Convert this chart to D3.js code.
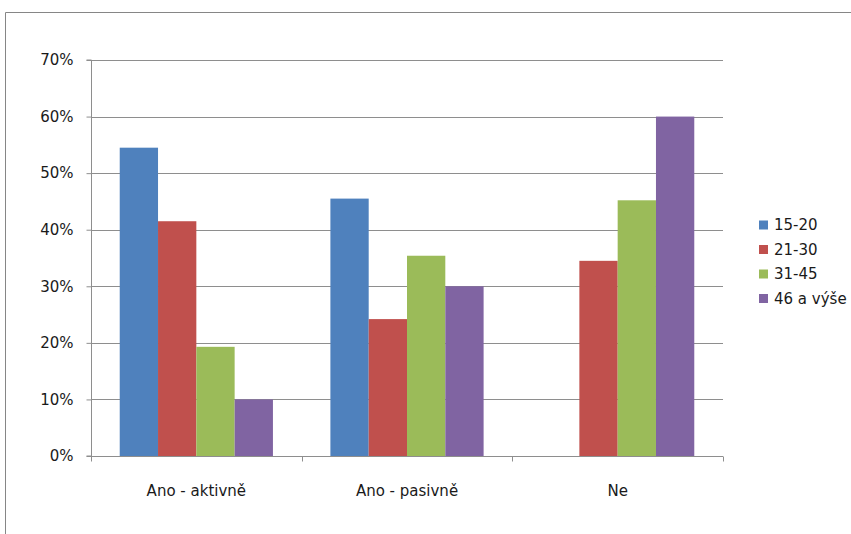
<!DOCTYPE html>
<html><head><meta charset="utf-8">
<script src="https://cdn.jsdelivr.net/npm/d3@7"></script>
<style>body{margin:0;background:#fff}svg{display:block}text{font-family:"DejaVu Sans",sans-serif;fill:#1a1a1a}</style>
</head><body><svg id="c" width="851" height="534"></svg>
<script>
const categories = ["Ano - aktivně", "Ano - pasivně", "Ne"];
const seriesNames = ["15-20", "21-30", "31-45", "46 a výše"];
const colors = ["#4F81BD", "#C0504D", "#9BBB59", "#8064A2"];
const s1520 = [0.545, 0.455, 0];
const s2130 = [0.415, 0.242, 0.345];
const s3145 = [0.193, 0.354, 0.452];
const s46 = [0.10, 0.30, 0.60];
const yTicks = [0, 0.1, 0.2, 0.3, 0.4, 0.5, 0.6, 0.7];
const seriesVals = [s1520, s2130, s3145, s46];

const svg = d3.select("#c");
const FONT = "'DejaVu Sans',sans-serif";
// outer chart frame
svg.append("path").attr("d","M5.5,534 V12.5 H851").attr("fill","none").attr("stroke","#868686").attr("stroke-width",1);

const L=91, R=723, T=60, B=456;
const x = d3.scaleBand().domain(categories).range([L,R]).paddingInner(0).paddingOuter(0);
const y = d3.scaleLinear().domain([0,0.7]).range([B,T]);
const bw = x.bandwidth()/5.5;
const xs = d3.scaleBand().domain(seriesNames).range([0, bw*4]);

// gridlines
svg.append("g").selectAll("line").data(yTicks.slice(1)).join("line")
  .attr("x1",L).attr("x2",R).attr("y1",d=>Math.round(y(d))+0.5).attr("y2",d=>Math.round(y(d))+0.5)
  .attr("stroke","#8e8e8e").attr("stroke-width",1);

// bars
seriesNames.forEach((s,i)=>{
  svg.append("g").selectAll("rect").data(categories.map((c,j)=>({c,v:seriesVals[i][j]}))).join("rect")
    .attr("x",d=>x(d.c)+bw*0.75+xs(s)).attr("width",xs.bandwidth())
    .attr("y",d=>y(d.v)).attr("height",d=>B-y(d.v)).attr("fill",colors[i]);
});

// y axis
const ya = svg.append("g").attr("transform",`translate(${L+0.5},0)`)
  .call(d3.axisLeft(y).tickValues(yTicks).tickFormat(d3.format(".0%")).tickSize(5).tickPadding(13));
ya.select(".domain").attr("stroke","#8e8e8e").attr("d",`M-5,${T}H0V${B}H-5`);
ya.selectAll(".tick line").attr("stroke","#8e8e8e");
ya.selectAll(".tick text").attr("font-size","15px").attr("fill","#1a1a1a").attr("font-family",FONT);

// x axis
const xa = svg.append("g").attr("transform",`translate(0,${B+0.5})`)
  .call(d3.axisBottom(x).tickSize(0).tickPadding(29));
xa.select(".domain").attr("stroke","#8e8e8e").attr("d",`M${L},0H${R}`);
xa.selectAll(".tick text").attr("font-size","15px").attr("fill","#1a1a1a").attr("font-family",FONT);
xa.append("g").selectAll("line").data(d3.range(categories.length+1)).join("line")
  .attr("x1",i=>Math.round(L+i*x.step())+0.5).attr("x2",i=>Math.round(L+i*x.step())+0.5)
  .attr("y1",0).attr("y2",5).attr("stroke","#8e8e8e");

// legend
const lg = svg.append("g").attr("transform","translate(759,225)");
seriesNames.forEach((s,i)=>{
  const g = lg.append("g").attr("transform",`translate(0,${i*24.5})`);
  g.append("rect").attr("x",0).attr("y",-4.5).attr("width",9).attr("height",9).attr("fill",colors[i]);
  g.append("text").attr("x",15).attr("y",0).attr("dy","0.36em").attr("font-size","15px").attr("font-family",FONT).text(s);
});
</script></body></html>
